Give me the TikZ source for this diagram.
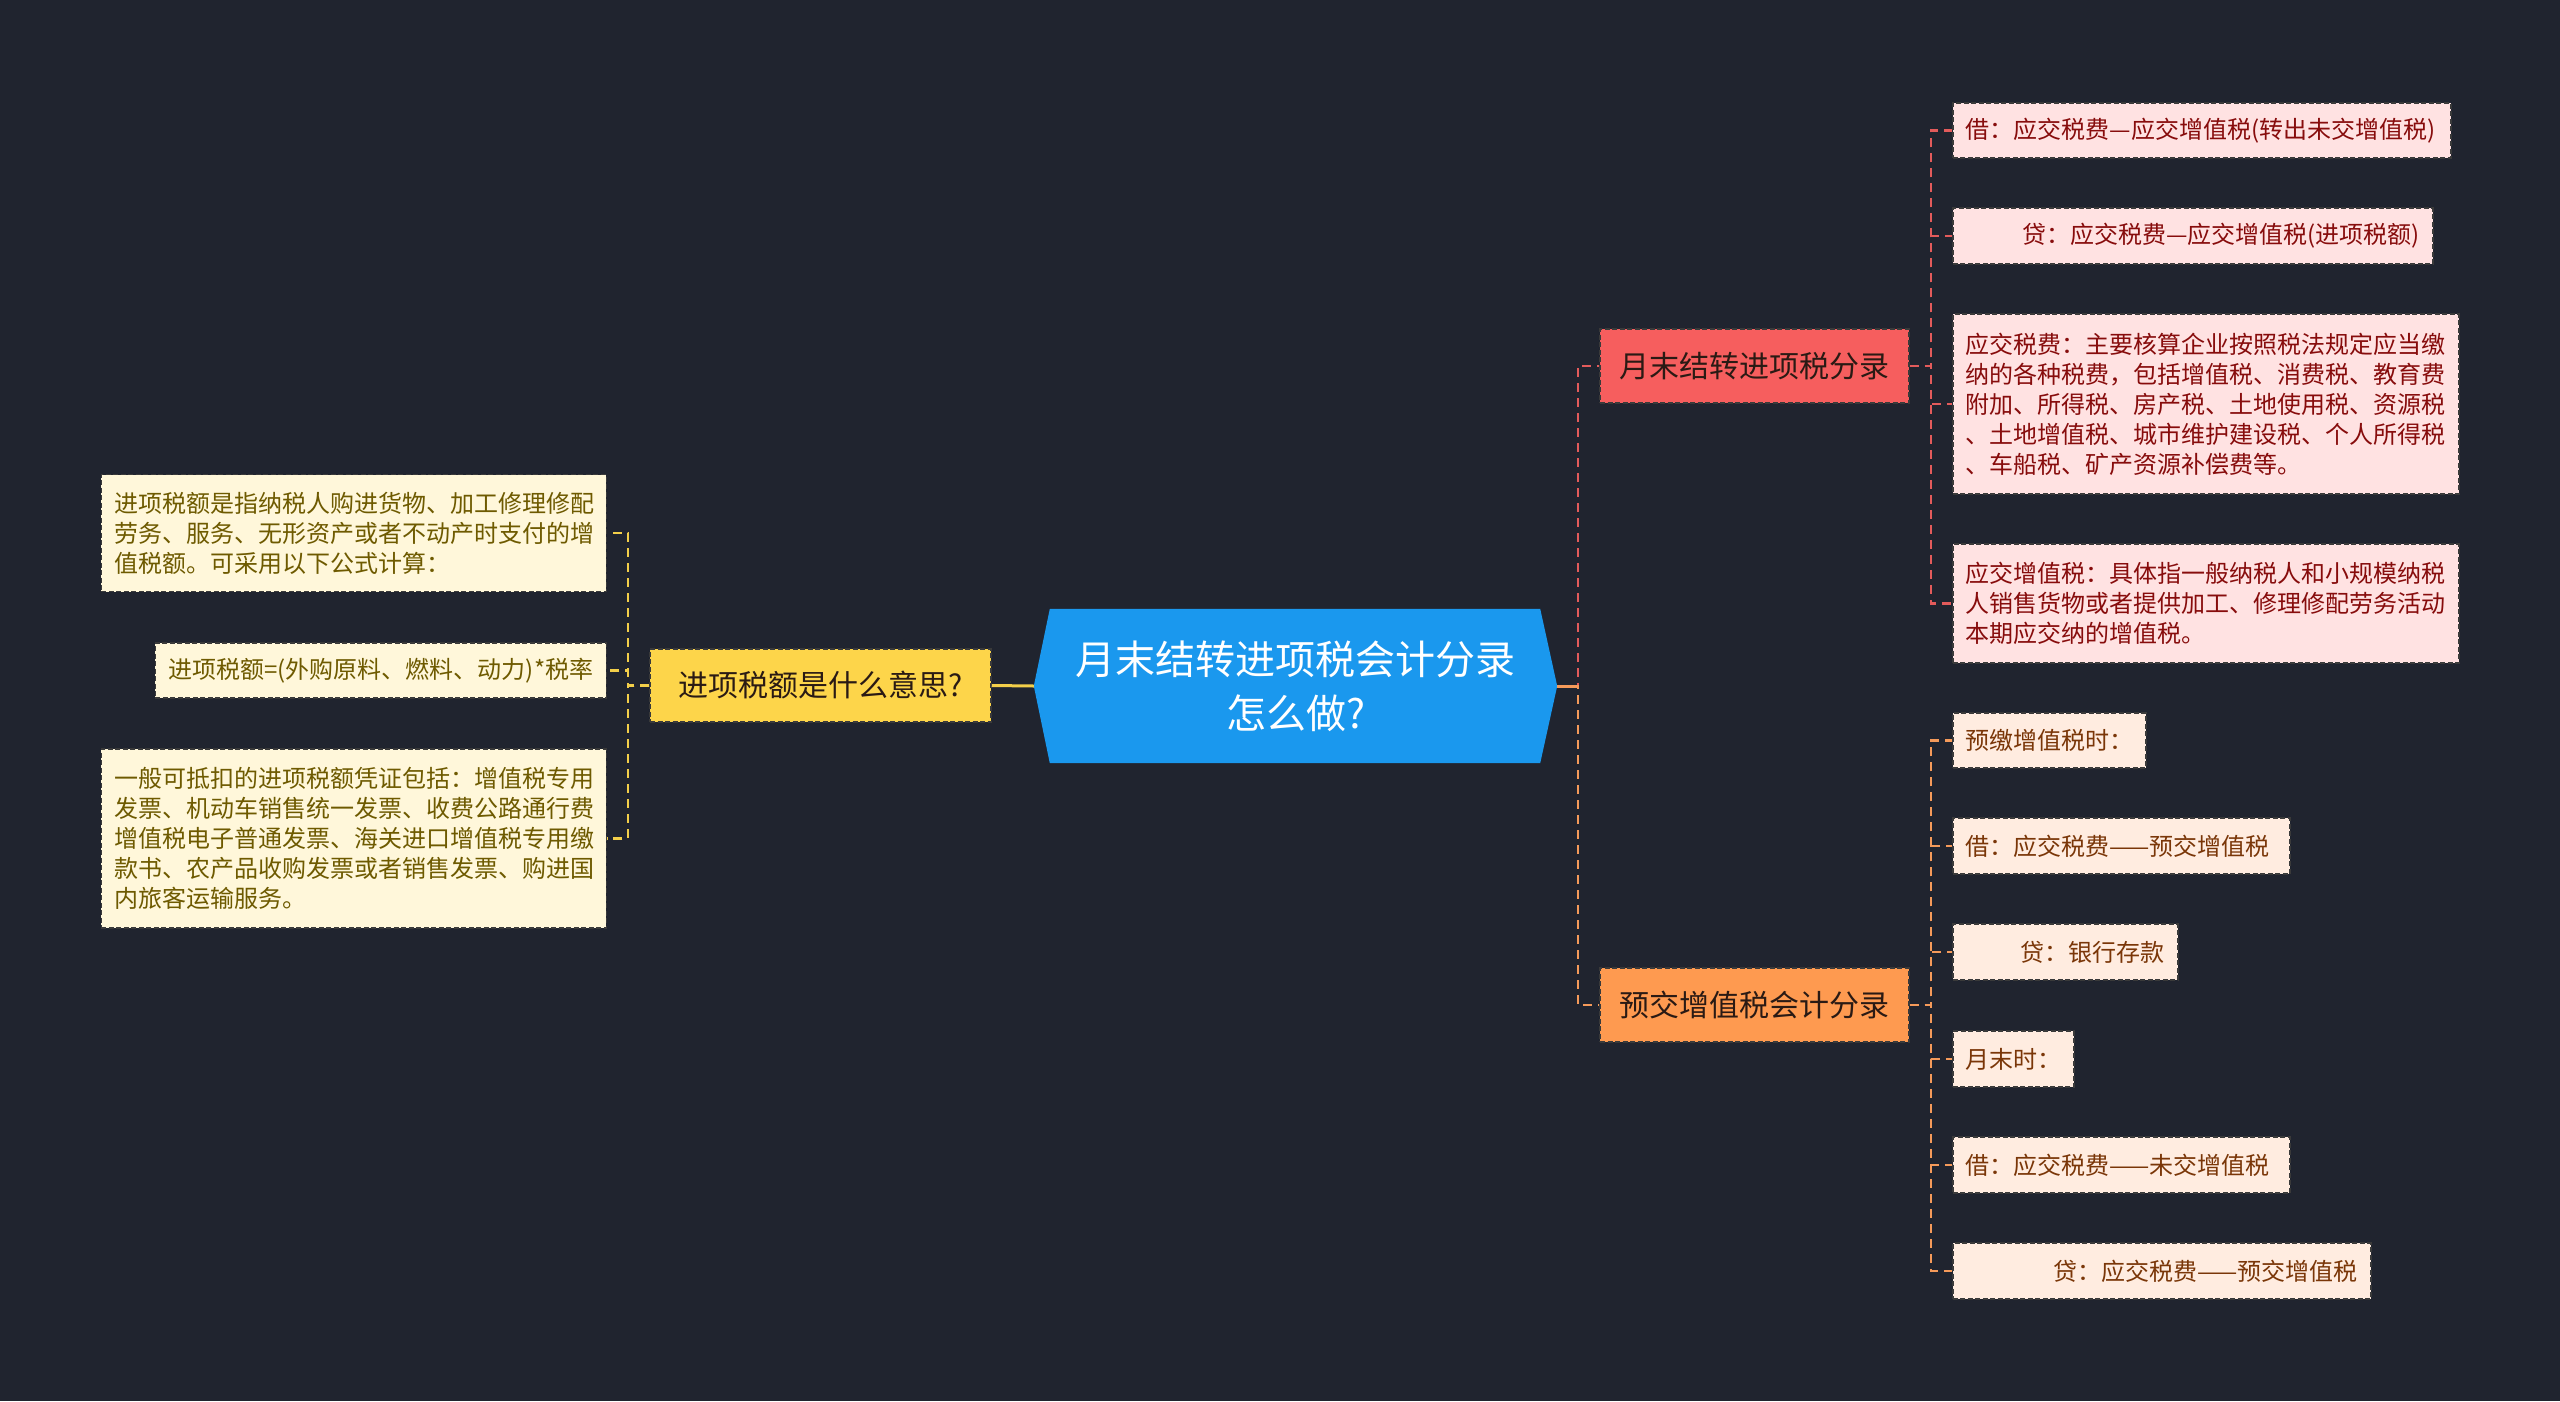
\documentclass[tikz,border=0pt]{standalone}
\usepackage{fontspec}
\setmainfont{Noto Sans CJK SC}
\definecolor{bg}{HTML}{20242F}
\definecolor{rootblue}{HTML}{1A98EE}
\definecolor{yel}{HTML}{FDD54A}
\definecolor{yelline}{HTML}{F3CF4A}
\definecolor{redn}{HTML}{F65E5E}
\definecolor{redline}{HTML}{E35B5B}
\definecolor{orn}{HTML}{FE9A50}
\definecolor{orline}{HTML}{F59A5A}
\definecolor{pinkfill}{HTML}{FFE2E2}
\definecolor{pinktext}{HTML}{870C0C}
\definecolor{peachfill}{HTML}{FFECE0}
\definecolor{peachtext}{HTML}{7A3608}
\definecolor{creamfill}{HTML}{FFF7DA}
\definecolor{creamtext}{HTML}{6E5A00}
\definecolor{bord}{HTML}{3A3A3A}
\definecolor{darktext}{HTML}{2A1A14}
\tikzset{
  leafbase/.style={font=\fontsize{24}{30}\selectfont, inner xsep=13pt, inner ysep=0pt,
    draw=bord, dash pattern=on 5pt off 2.5pt, line width=1.5pt},
  pinkleaf/.style={leafbase, fill=pinkfill, text=pinktext, anchor=west},
  peachleaf/.style={leafbase, fill=peachfill, text=peachtext, anchor=west},
  creamleaf/.style={leafbase, fill=creamfill, text=creamtext, anchor=east},
  branchbox/.style={font=\fontsize{30}{36}\selectfont, inner sep=0pt, minimum width=309pt,
    minimum height=74pt, draw=bord, dash pattern=on 5pt off 2.5pt, line width=1.5pt, text=darktext},
  reddash/.style={draw=redline, line width=2.2pt, dash pattern=on 9pt off 6pt},
  ordash/.style={draw=orline, line width=2.2pt, dash pattern=on 9pt off 6pt},
  yeldash/.style={draw=yelline, line width=2.2pt, dash pattern=on 9pt off 6pt},
}
\begin{document}
\begin{tikzpicture}[x=1pt,y=-1pt]
\fill[bg] (0,0) rectangle (2560,1401);
\useasboundingbox (0,0) rectangle (2560,1401);

% root
\node[inner sep=0pt, minimum width=523pt, minimum height=154pt] (root) at (1295.5,686) {};
\fill[rootblue] (root.west) -- ([xshift=16pt]root.north west) -- ([xshift=-17pt]root.north east)
  -- (root.east) -- ([xshift=-17pt]root.south east) -- ([xshift=16pt]root.south west) -- cycle;
\node[text=white, align=center, font=\fontsize{40}{54}\selectfont] (roottext) at (root.center)
  {月末结转进项税会计分录\\怎么做?};

% main branches
\node[branchbox, fill=redn] (n1) at (1754.5,366) {月末结转进项税分录};
\node[branchbox, fill=orn] (n2) at (1754.5,1005) {预交增值税会计分录};
\node[branchbox, fill=yel, minimum width=341pt, minimum height=73pt] (q) at (820.5,685.5) {进项税额是什么意思?};

% right leaves of n1
\node[pinkleaf, text width=472pt, align=left, minimum height=55pt] (a) at (1952,130.5) {借：应交税费—应交增值税(转出未交增值税)};
\node[pinkleaf, text width=454pt, align=right, minimum height=56pt] (b) at (1952,236) {贷：应交税费—应交增值税(进项税额)};
\node[pinkleaf, text width=480pt, align=left, minimum height=180pt] (c) at (1952,404) {应交税费：主要核算企业按照税法规定应当缴\\纳的各种税费，包括增值税、消费税、教育费\\附加、所得税、房产税、土地使用税、资源税\\、土地增值税、城市维护建设税、个人所得税\\、车船税、矿产资源补偿费等。};
\node[pinkleaf, text width=480pt, align=left, minimum height=119pt] (d) at (1952,603.5) {应交增值税：具体指一般纳税人和小规模纳税\\人销售货物或者提供加工、修理修配劳务活动\\本期应交纳的增值税。};

% right leaves of n2
\node[peachleaf, text width=167pt, align=left, minimum height=55pt] (e) at (1952,740.5) {预缴增值税时：};
\node[peachleaf, text width=311pt, align=left, minimum height=56pt] (f) at (1952,846) {借：应交税费——预交增值税};
\node[peachleaf, text width=199pt, align=right, minimum height=56pt] (g) at (1952,952) {贷：银行存款};
\node[peachleaf, text width=95pt, align=left, minimum height=56pt] (h) at (1952,1059) {月末时：};
\node[peachleaf, text width=311pt, align=left, minimum height=56pt] (i) at (1952,1165) {借：应交税费——未交增值税};
\node[peachleaf, text width=392pt, align=right, minimum height=56pt] (j) at (1952,1271) {贷：应交税费——预交增值税};

% left leaves
\node[creamleaf, text width=479pt, align=left, minimum height=117pt] (k) at (607,533) {进项税额是指纳税人购进货物、加工修理修配\\劳务、服务、无形资产或者不动产时支付的增\\值税额。可采用以下公式计算：};
\node[creamleaf, text width=425pt, align=right, minimum height=55pt] (l) at (607,670.5) {进项税额=(外购原料、燃料、动力)*税率};
\node[creamleaf, text width=479pt, align=left, minimum height=179pt] (m) at (607,838.5) {一般可抵扣的进项税额凭证包括：增值税专用\\发票、机动车销售统一发票、收费公路通行费\\增值税电子普通发票、海关进口增值税专用缴\\款书、农产品收购发票或者销售发票、购进国\\内旅客运输服务。};

% junction coordinates
\coordinate (rj) at (1578,686);
\coordinate (n1j) at (1931,366);
\coordinate (n2j) at (1931,1005);
\coordinate (qj) at (628,685.5);

% connectors
\draw[yelline, line width=3pt] (root.west) -- (q.east);
\draw[reddash] (root.east) -- (rj) |- (n1.west);
\draw[ordash] (root.east) -- (rj) |- (n2.west);
\draw[orline, line width=3pt] (root.east) -- (rj);

\foreach \t in {a,b,c,d} { \draw[reddash] (n1.east) -- (n1j) |- (\t.west); }
\foreach \t in {e,f,g,h,i,j} { \draw[ordash] (n2.east) -- (n2j) |- (\t.west); }
\foreach \t in {k,l,m} { \draw[yeldash] (q.west) -- (qj) |- (\t.east); }
\end{tikzpicture}
\end{document}
